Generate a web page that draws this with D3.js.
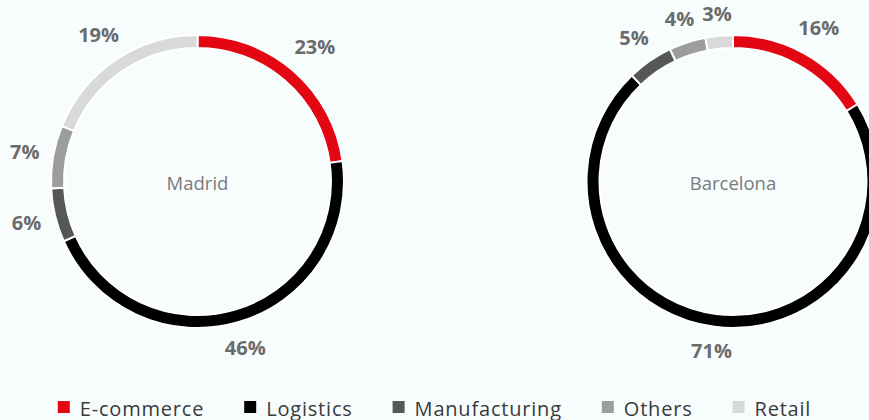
<!DOCTYPE html>
<html>
<head>
<meta charset="utf-8">
<script src="https://cdn.jsdelivr.net/npm/d3@7"></script>
<style>
  html, body { margin: 0; padding: 0; background: #f7fdfd; }
  svg { display: block; }
</style>
</head>
<body>
<svg id="chart" width="869" height="420"></svg>
<script>
// Sector mix of take-up by city
const cities = ["Madrid", "Barcelona"];
const sectors = ["E-commerce", "Logistics", "Manufacturing", "Others", "Retail"];
const madridShare = [23, 46, 6, 7, 19];
const barcelonaShare = [16, 71, 5, 4, 3];
const sectorColors = ["#e30613", "#000000", "#575757", "#9d9d9d", "#d9d9d9"];

const seriesByCity = { Madrid: madridShare, Barcelona: barcelonaShare };

const width = 869, height = 420;
const svg = d3.select("#chart");

const outerR = 146.5, innerR = 133.5;
const xCity = d3.scalePoint().domain(cities).range([197.5, 733]);
const cy = 181.5;
const color = d3.scaleOrdinal().domain(sectors).range(sectorColors);

const pie = d3.pie().sort(null).value(d => d.value);
const arc = d3.arc().innerRadius(innerR).outerRadius(outerR);

cities.forEach(city => {
  const data = sectors.map((s, i) => ({ sector: s, value: seriesByCity[city][i] }));
  const arcs = pie(data);
  const g = svg.append("g").attr("transform", `translate(${xCity(city)},${cy})`);

  g.selectAll("path")
    .data(arcs)
    .join("path")
    .attr("d", arc)
    .attr("fill", d => color(d.data.sector))
    .attr("stroke", "#ffffff")
    .attr("stroke-width", 2);

  g.append("text")
    .attr("text-anchor", "middle")
    .attr("dominant-baseline", "central")
    .attr("y", 1)
    .attr("font-family", "'Open Sans', sans-serif")
    .attr("font-size", 18.5)
    .attr("fill", "#7a7a7a")
    .text(city);

  // percentage labels outside the ring, pushed clear of it by the label's box
  g.selectAll("text.pct")
    .data(arcs)
    .join("text")
    .attr("class", "pct")
    .attr("text-anchor", "middle")
    .attr("dominant-baseline", "central")
    .attr("font-family", "'Open Sans', sans-serif")
    .attr("font-weight", 700)
    .attr("font-size", 20)
    .attr("fill", "#6b6b6b")
    .text(d => d.data.value + "%")
    .each(function(d) {
      const a = (d.startAngle + d.endAngle) / 2;
      const bb = this.getBBox();
      const s = Math.sin(a), c = Math.cos(a);
      const r = outerR + 13 + Math.abs(s) * bb.width / 2 + Math.abs(c) * 8;
      d3.select(this).attr("x", r * s).attr("y", -r * c);
    });
});

// legend along the bottom
const legend = svg.append("g");
const items = legend.selectAll("g")
  .data(sectors)
  .join("g");
items.append("rect")
  .attr("width", 12).attr("height", 12)
  .attr("y", -6)
  .attr("fill", d => color(d));
items.append("text")
  .attr("x", 22)
  .attr("dominant-baseline", "central")
  .attr("y", 1)
  .attr("font-family", "'Open Sans', sans-serif")
  .attr("font-size", 20)
  .attr("letter-spacing", 0.8)
  .attr("fill", "#3a3a3a")
  .text(d => d);

const gap = 40;
let xPos = 0;
items.each(function() {
  const w = this.getBBox().width;
  d3.select(this).attr("transform", `translate(${xPos},0)`);
  xPos += w + gap;
});
const total = xPos - gap;
legend.attr("transform", `translate(${(width - total) / 2},407)`);
</script>
</body>
</html>
